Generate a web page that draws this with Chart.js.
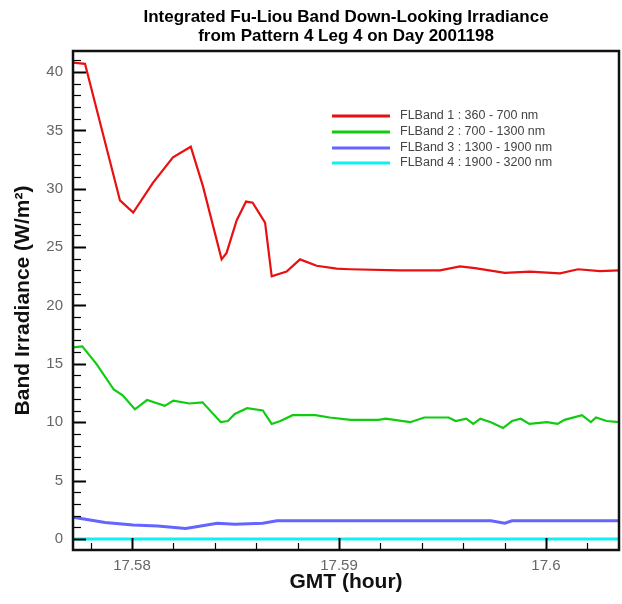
<!DOCTYPE html>
<html>
<head>
<meta charset="utf-8">
<script src="https://cdn.jsdelivr.net/npm/chart.js@4.4.1/dist/chart.umd.min.js"></script>
<style>
  html, body { margin: 0; padding: 0; background: #fff; }
  canvas { display: block; }
</style>
</head>
<body>
<canvas id="chart" width="622" height="604"></canvas>
<script>
// GMT hour and down-looking irradiance (W/m2) for each Fu-Liou band
const band1Hours = [17.57715, 17.57773, 17.57942, 17.58006, 17.58101, 17.58198, 17.58284, 17.58343, 17.58433, 17.58457,
  17.58506, 17.58551, 17.58583, 17.58643, 17.58675, 17.58747, 17.58812, 17.58892, 17.58989, 17.59053,
  17.59295, 17.59488, 17.59585, 17.59657, 17.59802, 17.59923, 17.60068, 17.60155, 17.60261, 17.60353];
const band1Values = [40.8, 40.7, 29.0, 27.95, 30.5, 32.7, 33.6, 30.2, 23.95, 24.5,
  27.3, 28.9, 28.8, 27.1, 22.5, 22.9, 23.95, 23.4, 23.15, 23.1,
  23.0, 23.0, 23.35, 23.2, 22.8, 22.9, 22.75, 23.1, 22.95, 23.0];

const band2Hours = [17.57715, 17.57760, 17.57828, 17.57912, 17.57955, 17.58014, 17.58073, 17.58158, 17.58200, 17.58277,
  17.58341, 17.58429, 17.58463, 17.58497, 17.58556, 17.58632, 17.58675, 17.58717, 17.58776, 17.58886,
  17.58955, 17.59056, 17.59192, 17.59226, 17.59344, 17.59412, 17.59530, 17.59564, 17.59615, 17.59649,
  17.59683, 17.59734, 17.59793, 17.59836, 17.59878, 17.59920, 17.60005, 17.60056, 17.60090, 17.60174,
  17.60217, 17.60242, 17.60293, 17.60353];
const band2Values = [16.4, 16.5, 15.0, 12.8, 12.3, 11.1, 11.9, 11.4, 11.85, 11.6,
  11.7, 10.0, 10.1, 10.7, 11.2, 11.0, 9.85, 10.1, 10.6, 10.6,
  10.4, 10.2, 10.2, 10.3, 10.0, 10.4, 10.4, 10.1, 10.3, 9.85,
  10.3, 10.0, 9.5, 10.1, 10.3, 9.85, 10.0, 9.85, 10.2, 10.6,
  10.0, 10.4, 10.1, 10.0];

const band3Hours = [17.57715, 17.57768, 17.57870, 17.58005, 17.58124, 17.58259, 17.58311, 17.58412, 17.58497, 17.58632,
  17.58700, 17.59734, 17.59801, 17.59836, 17.60353];
const band3Values = [1.85, 1.7, 1.4, 1.2, 1.1, 0.9, 1.05, 1.35, 1.25, 1.35,
  1.55, 1.55, 1.35, 1.55, 1.55];

const band4Hours = [17.57715, 17.60353];
const band4Values = [0, 0];

const bandLabels = [
  'FLBand 1 : 360 - 700 nm',
  'FLBand 2 : 700 - 1300 nm',
  'FLBand 3 : 1300 - 1900 nm',
  'FLBand 4 : 1900 - 3200 nm'
];
const bandColors = ['#e81010', '#10cc10', '#6464ff', '#10f0f0'];

const xTickLabels = ['17.58', '17.59', '17.6'];
const yTickLabels = ['0', '5', '10', '15', '20', '25', '30', '35', '40'];
const titleLines = [
  'Integrated Fu-Liou Band Down-Looking Irradiance',
  'from Pattern 4 Leg 4 on Day 2001198'
];

const FONT = '"Liberation Sans", Arial, sans-serif';

function toPoints(hours, values) {
  return hours.map((h, i) => ({ x: h, y: values[i] }));
}

function isLabelled(labels, value, digits) {
  return labels.some(l => Math.abs(parseFloat(l) - value) < Math.pow(10, -digits));
}

// inner tick marks, frame, legend and the two-line title
const decorations = {
  id: 'decorations',
  afterDatasetsDraw(chart) {
    const { ctx, chartArea: a, scales: { x, y } } = chart;
    ctx.save();
    ctx.strokeStyle = '#000';

    x.ticks.forEach(t => {
      const px = Math.round(x.getPixelForValue(t.value)) + 0.5;
      const major = isLabelled(xTickLabels, t.value, 5);
      ctx.lineWidth = major ? 2 : 1.2;
      ctx.beginPath();
      ctx.moveTo(px, a.bottom);
      ctx.lineTo(px, a.bottom - (major ? 12 : 7));
      ctx.stroke();
    });
    y.ticks.forEach(t => {
      const py = Math.round(y.getPixelForValue(t.value)) + 0.5;
      const major = isLabelled(yTickLabels, t.value, 3);
      ctx.lineWidth = major ? 2 : 1.2;
      ctx.beginPath();
      ctx.moveTo(a.left, py);
      ctx.lineTo(a.left + (major ? 13 : 8), py);
      ctx.stroke();
    });

    ctx.lineWidth = 2.5;
    ctx.strokeStyle = '#111';
    ctx.strokeRect(a.left, a.top, a.right - a.left, a.bottom - a.top);

    // legend
    ctx.font = '12.5px ' + FONT;
    ctx.textBaseline = 'middle';
    ctx.textAlign = 'left';
    const legendY = [116, 132, 148, 163];
    bandLabels.forEach((label, i) => {
      ctx.strokeStyle = bandColors[i];
      ctx.lineWidth = 3;
      ctx.beginPath();
      ctx.moveTo(332, legendY[i]);
      ctx.lineTo(390, legendY[i]);
      ctx.stroke();
      ctx.fillStyle = '#444';
      ctx.fillText(label, 400, legendY[i]);
    });

    // title
    ctx.fillStyle = '#000';
    ctx.font = 'bold 17px ' + FONT;
    ctx.textAlign = 'center';
    const cx = (a.left + a.right) / 2;
    ctx.fillText(titleLines[0], cx, 17);
    ctx.fillText(titleLines[1], cx, 36);
    ctx.restore();
  }
};

const datasets = [
  { data: toPoints(band1Hours, band1Values), borderWidth: 2.2 },
  { data: toPoints(band2Hours, band2Values), borderWidth: 2.2 },
  { data: toPoints(band3Hours, band3Values), borderWidth: 3 },
  { data: toPoints(band4Hours, band4Values), borderWidth: 3 }
].map((d, i) => ({
  ...d,
  label: bandLabels[i],
  borderColor: bandColors[i],
  backgroundColor: bandColors[i],
  pointRadius: 0,
  tension: 0,
  fill: false
}));

new Chart(document.getElementById('chart'), {
  type: 'line',
  data: { datasets },
  plugins: [decorations],
  options: {
    responsive: false,
    animation: false,
    layout: { padding: { top: 51, right: 3, left: 0, bottom: 0 } },
    plugins: {
      legend: { display: false },
      title: { display: false },
      tooltip: { enabled: false }
    },
    scales: {
      x: {
        type: 'linear',
        min: 17.57715,
        max: 17.60353,
        grid: { display: false, drawTicks: false },
        border: { display: false },
        ticks: {
          stepSize: 0.002,
          includeBounds: false,
          autoSkip: false,
          maxRotation: 0,
          padding: 7,
          color: '#666',
          font: { family: FONT, size: 15 },
          callback: v => (isLabelled(xTickLabels, v, 5) ? String(parseFloat(v.toFixed(3))) : '')
        },
        title: {
          display: true,
          text: 'GMT (hour)',
          color: '#111',
          font: { family: FONT, size: 21, weight: 'bold' },
          padding: { top: 0, bottom: 9 }
        },
        afterFit: s => { s.height = 54; }
      },
      y: {
        min: -0.95,
        max: 41.8,
        grid: { display: false, drawTicks: false },
        border: { display: false },
        ticks: {
          stepSize: 1,
          includeBounds: false,
          autoSkip: false,
          padding: 10,
          color: '#666',
          font: { family: FONT, size: 15 },
          callback: v => (isLabelled(yTickLabels, v, 3) ? String(v) : '')
        },
        title: {
          display: true,
          text: 'Band Irradiance (W/m²)',
          color: '#111',
          font: { family: FONT, size: 21, weight: 'bold' },
          padding: { top: 11, bottom: 0 }
        },
        afterFit: s => { s.width = 73; }
      }
    }
  }
});
</script>
</body>
</html>
